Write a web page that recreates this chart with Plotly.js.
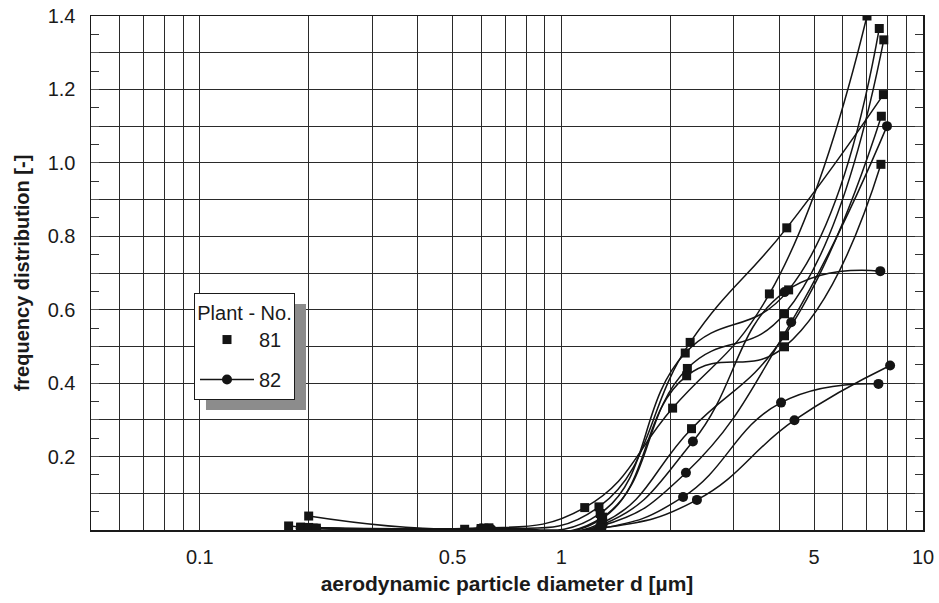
<!DOCTYPE html>
<html>
<head>
<meta charset="utf-8">
<script src="https://cdn.plot.ly/plotly-3.0.1.min.js"></script>
<style>
html,body{margin:0;padding:0;background:#fff;}
#chart{width:939px;height:603px;}
</style>
</head>
<body>
<div id="chart"></div>
<script>
// ---- Plant 81 (square markers) ----
const p81_1_x = [0.200, 0.60, 1.27, 2.27, 4.20, 7.77];
const p81_1_y = [0.038, 0.004, 0.063, 0.511, 0.823, 1.186];
const p81_2_x = [0.176, 0.54, 1.16, 2.03, 3.76, 7.00];
const p81_2_y = [0.011, 0.002, 0.061, 0.332, 0.643, 1.400];
const p81_3_x = [0.19, 0.61, 1.28, 2.20, 4.25, 7.57];
const p81_3_y = [0.008, 0.005, 0.045, 0.482, 0.654, 1.366];
const p81_4_x = [0.19, 0.62, 1.30, 2.23, 4.14, 7.79];
const p81_4_y = [0.006, 0.004, 0.035, 0.440, 0.589, 1.335];
const p81_5_x = [0.20, 0.63, 1.29, 2.22, 4.14, 7.65];
const p81_5_y = [0.007, 0.006, 0.030, 0.420, 0.499, 0.996];
const p81_6_x = [0.21, 0.60, 1.30, 2.29, 4.14, 7.67];
const p81_6_y = [0.005, 0.003, 0.020, 0.276, 0.529, 1.127];
// ---- Plant 82 (circle markers) ----
const p82_1_x = [0.19, 0.60, 1.30, 2.31, 4.14, 7.62];
const p82_1_y = [0.005, 0.004, 0.015, 0.241, 0.648, 0.705];
const p82_2_x = [0.206, 0.62, 1.28, 2.21, 4.32, 7.95];
const p82_2_y = [0.004, 0.003, 0.010, 0.156, 0.566, 1.100];
const p82_3_x = [0.20, 0.64, 1.27, 2.17, 4.05, 7.53];
const p82_3_y = [0.005, 0.002, 0.003, 0.090, 0.347, 0.398];
const p82_4_x = [0.21, 0.61, 1.29, 2.37, 4.41, 8.11];
const p82_4_y = [0.004, 0.003, 0.005, 0.082, 0.299, 0.448];

// ---- axes ----
const xTickVals = [0.1, 0.5, 1, 5, 10];
const xTickText = ['0.1', '0.5', '1', '5', '10'];
const yTickVals = [0.1, 0.2, 0.3, 0.4, 0.5, 0.6, 0.7, 0.8, 0.9, 1.0, 1.1, 1.2, 1.3, 1.4];
const yTickText = ['', '0.2', '', '0.4', '', '0.6', '', '0.8', '', '1.0', '', '1.2', '', '1.4'];
const legendLabels = ['81', '82'];
const legendTitle = 'Plant - No.';
const xTitle = 'aerodynamic particle diameter d [\u00b5m]';
const yTitle = 'frequency distribution [-]';

const INK = '#141414';
const FONT = 'Liberation Sans, Arial, sans-serif';

function series(x, y, sym) {
  return {
    x: x, y: y, type: 'scatter', mode: 'lines+markers',
    line: {shape: 'spline', smoothing: 1.3, color: INK, width: 1.5},
    marker: {symbol: sym, size: sym === 'square' ? 9 : 10, color: INK},
    showlegend: false, hoverinfo: 'x+y'
  };
}

const data = [
  series(p81_1_x, p81_1_y, 'square'),
  series(p81_2_x, p81_2_y, 'square'),
  series(p81_3_x, p81_3_y, 'square'),
  series(p81_4_x, p81_4_y, 'square'),
  series(p81_5_x, p81_5_y, 'square'),
  series(p81_6_x, p81_6_y, 'square'),
  series(p82_1_x, p82_1_y, 'circle'),
  series(p82_2_x, p82_2_y, 'circle'),
  series(p82_3_x, p82_3_y, 'circle'),
  series(p82_4_x, p82_4_y, 'circle'),
  {x: [null], y: [null], type: 'scatter', mode: 'markers', name: legendLabels[0],
   legendgroup: 'a', marker: {symbol: 'square', size: 9, color: INK}, showlegend: true},
  {x: [null], y: [null], type: 'scatter', mode: 'lines+markers', name: legendLabels[1],
   legendgroup: 'b', line: {color: INK, width: 1.5}, marker: {symbol: 'circle', size: 10, color: INK}, showlegend: true}
];

const layout = {
  width: 939, height: 603,
  margin: {l: 91, r: 16, t: 16, b: 73},
  paper_bgcolor: '#fff', plot_bgcolor: '#fff',
  font: {family: FONT, size: 20, color: '#1a1a1a'},
  xaxis: {
    type: 'log', range: [Math.log10(0.05), 1],
    tickmode: 'array', tickvals: xTickVals, ticktext: xTickText,
    showgrid: true, gridcolor: '#2a2a2a', gridwidth: 1,
    minor: {dtick: 'D1', showgrid: true, gridcolor: '#2a2a2a', gridwidth: 1, ticks: ''},
    ticks: '', showline: true, linecolor: '#1a1a1a', linewidth: 1.5, mirror: true,
    zeroline: false,
    tickfont: {size: 20, family: FONT},
    ticklabelstandoff: 8,
    title: {text: xTitle, font: {size: 21, family: FONT, weight: 'bold'}, standoff: 10}
  },
  yaxis: {
    range: [0, 1.4],
    tickmode: 'array', tickvals: yTickVals, ticktext: yTickText,
    showgrid: true, gridcolor: '#2a2a2a', gridwidth: 1,
    ticks: 'inside', ticklen: 8, tickcolor: '#555', tickwidth: 1,
    minor: {dtick: 0.05, tick0: 0, ticks: 'inside', ticklen: 8, tickcolor: '#333', showgrid: false},
    showline: true, linecolor: '#1a1a1a', linewidth: 1.5, mirror: 'ticks',
    zeroline: false,
    tickfont: {size: 20, family: FONT},
    ticklabelstandoff: 10,
    title: {text: yTitle, font: {size: 20, family: FONT, weight: 'bold'}, standoff: 12}
  },
  showlegend: true,
  legend: {
    x: 0.1238, y: 0.461, xanchor: 'left', yanchor: 'top',
    bgcolor: '#fff', bordercolor: '#1a1a1a', borderwidth: 1,
    font: {size: 20, family: FONT, color: '#1a1a1a'},
    title: {text: legendTitle, side: 'top center', font: {size: 20, family: FONT}},
    itemwidth: 54, tracegroupgap: 11
  },
  shapes: [{
    type: 'rect', xref: 'paper', yref: 'paper',
    x0: 0.1382, x1: 0.2584, y0: 0.2335, y1: 0.4397,
    fillcolor: '#8c8c8c', line: {width: 0}, layer: 'above'
  }]
};

Plotly.newPlot('chart', data, layout, {displayModeBar: false, staticPlot: true});
</script>
</body>
</html>
